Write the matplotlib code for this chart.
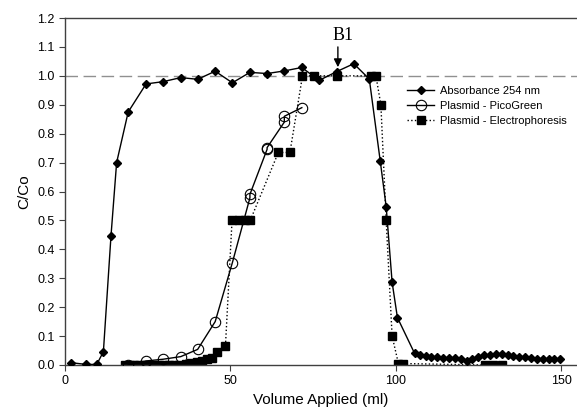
import matplotlib
matplotlib.use("Agg")
import matplotlib.pyplot as plt

plt.rcParams['font.family'] = ['Liberation Sans', 'DejaVu Sans']

# Absorbance 254 nm (diamonds)
abs_x = [1.8, 6.4, 9.6, 11.6, 13.9, 15.6, 19.1, 24.5, 29.7, 35.0, 40.1, 45.4, 50.6,
         55.9, 61.1, 66.3, 71.6, 76.8, 82.2, 87.3, 92.0, 95.3, 97.1, 98.9, 100.5,
         105.7, 107.3, 109.1, 110.8, 112.6, 114.4, 116.1, 117.9, 119.7, 121.4, 123.2,
         125.0, 126.7, 128.5, 130.3, 132.0, 133.8, 135.6, 137.3, 139.1, 140.9, 142.6,
         144.4, 146.2, 147.9, 149.7]
abs_y = [0.008, 0.002, 0.002, 0.046, 0.447, 0.70, 0.875, 0.972, 0.980, 0.994, 0.988,
         1.016, 0.976, 1.012, 1.008, 1.017, 1.029, 0.984, 1.015, 1.042, 0.989, 0.706,
         0.548, 0.286, 0.164, 0.040, 0.033, 0.030, 0.028, 0.026, 0.025, 0.024, 0.023,
         0.021, 0.014, 0.020, 0.028, 0.033, 0.036, 0.038, 0.037, 0.034, 0.031, 0.029,
         0.027, 0.025, 0.022, 0.020, 0.020, 0.020, 0.022]

# Plasmid - PicoGreen (open circles)
pico_x = [19.1, 24.5, 29.7, 35.0, 40.1, 45.4, 50.6, 55.9, 55.9, 61.1, 61.1, 66.3, 66.3, 71.6]
pico_y = [0.0, 0.014, 0.020, 0.029, 0.054, 0.150, 0.354, 0.578, 0.590, 0.746, 0.752,
          0.840, 0.860, 0.890]

# Plasmid - Electrophoresis (filled squares)
elec_x = [18.0, 19.5, 21.0, 22.5, 24.0, 25.5, 27.0, 28.5, 30.0, 31.5, 33.0, 34.5,
          36.5, 38.0, 40.0, 41.5, 43.0, 44.5, 46.0, 48.5, 50.5, 52.5, 54.5, 56.0,
          64.5, 68.0, 71.8, 75.3, 82.2, 92.5, 94.0, 95.5, 97.1, 98.9, 100.8, 102.3,
          127.0, 129.5, 132.0]
elec_y = [0.0, 0.0, 0.0, 0.0, 0.0, 0.0, 0.0, 0.0, 0.0, 0.0, 0.0, 0.0,
          0.003, 0.006, 0.010, 0.013, 0.020, 0.025, 0.045, 0.065, 0.50, 0.50, 0.50, 0.50,
          0.735, 0.735, 1.0, 1.0, 1.0, 1.0, 1.0, 0.90, 0.50, 0.10, 0.005, 0.005,
          0.0, 0.0, 0.0]

yticks = [0.0, 0.1, 0.2, 0.3, 0.4, 0.5, 0.6, 0.7, 0.8, 0.9, 1.0, 1.1, 1.2]
xticks = [0, 50, 100, 150]

fig = plt.figure(figsize=(5.77, 4.18), dpi=100)
ax = fig.add_axes([0.1127, 0.1268, 0.8873, 0.8301])

ax.axhline(1.0, color='#909090', lw=1, dashes=(9, 4), zorder=1)

ax.plot(elec_x, elec_y, color='black', ls=':', lw=1, marker='s', ms=6.3,
        mfc='black', mec='black', label='Plasmid - Electrophoresis', zorder=2)
ax.plot(pico_x, pico_y, color='black', ls='-', lw=1, marker='o', ms=7.5,
        mfc='none', mec='black', mew=0.8, label='Plasmid - PicoGreen', zorder=3)
ax.plot(abs_x, abs_y, color='black', ls='-', lw=1, marker='D', ms=4.5,
        mfc='black', mec='black', label='Absorbance 254 nm', zorder=4)

# B1 marker
ax.annotate('', xy=(82.5, 1.03), xytext=(82.5, 1.10),
            arrowprops=dict(arrowstyle='-|>', color='black', lw=1,
                            mutation_scale=12, shrinkA=0, shrinkB=0))
ax.text(84.0, 1.11, 'B1', ha='center', va='bottom', fontsize=13,
        family=['Liberation Serif', 'DejaVu Serif'])

ax.set_xlim(0, 154.8)
ax.set_ylim(0, 1.2)
ax.set_xticks(xticks)
ax.set_yticks(yticks)
ax.set_yticklabels(['%.1f' % v for v in yticks])
ax.tick_params(direction='out', length=4, labelsize=9, color='#404040')

for s in ['left', 'bottom', 'top']:
    ax.spines[s].set_color('#404040')
    ax.spines[s].set_linewidth(1)
ax.spines['right'].set_visible(False)

ax.set_xlabel('Volume Applied (ml)', fontsize=11)
ax.set_ylabel('C/Co', fontsize=11)

h, l = ax.get_legend_handles_labels()
ax.legend(h[::-1], l[::-1], loc='upper left', bbox_to_anchor=(0.66, 0.818),
          frameon=False, fontsize=8, handlelength=2.4, handletextpad=0.5,
          labelspacing=0.45, borderaxespad=0)

fig.savefig('out.png', dpi=100)
